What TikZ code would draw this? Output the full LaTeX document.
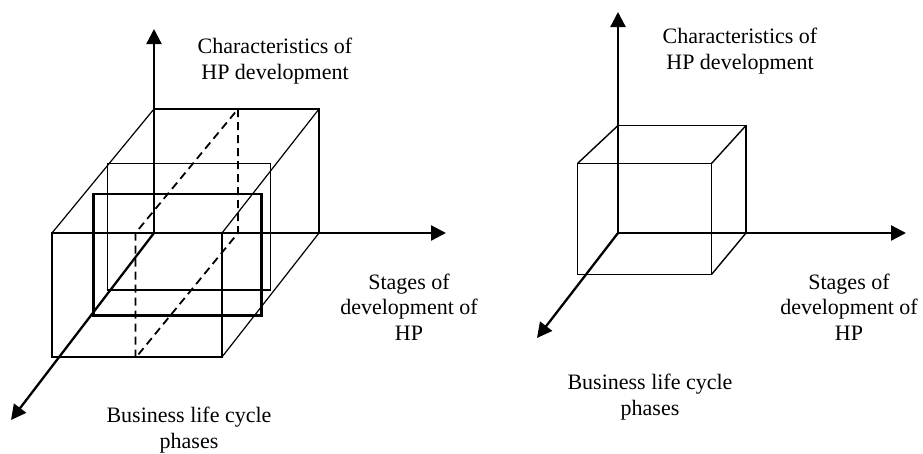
\documentclass[tikz,border=0pt]{standalone}
\usepackage{fontspec}
\setmainfont{Liberation Serif}
\usetikzlibrary{arrows.meta}
\begin{document}
\begin{tikzpicture}[x=1pt,y=-1pt,
  axis/.style={line width=2.3pt,-{Triangle[length=15pt,width=15pt]}},
  thin box/.style={line width=1.2pt},
  cube line/.style={line width=1.4pt},
  thick box/.style={line width=2.8pt},
  dash line/.style={line width=1.8pt,dash pattern=on 8pt off 5pt},
  lbl/.style={align=center,inner sep=0pt,font=\fontsize{22}{25.5}\selectfont}]
\useasboundingbox (0,0) rectangle (923,453);
% ---------- left diagram ----------
\coordinate (O1) at (154,233);
\coordinate (V1) at (154,29);
\coordinate (H1) at (446,233);
\coordinate (D1) at (11,420);
% large box
\coordinate (f1) at (52,233);  \coordinate (f2) at (222,233);
\coordinate (f3) at (222,357); \coordinate (f4) at (52,357);
\coordinate (b1) at (154,109); \coordinate (b2) at (319,109);
\coordinate (b3) at (319,233);
\draw[thin box] (f1) -- (f2) -- (f3) -- (f4) -- cycle;
\draw[thin box] (O1) -- (b1) -- (b2) -- (b3);
\draw[thin box] (f1) -- (b1) (f2) -- (b2) (f3) -- (b3);
% middle thin rectangle
\draw[thin box] (107.5,163.5) rectangle (270.5,290);
% thick rectangle
\draw[thick box] (93.5,194) rectangle (261.5,315.5);
% dashed slice
\coordinate (s1) at (238,109); \coordinate (s2) at (238,233);
\coordinate (s3) at (135.5,358); \coordinate (s4) at (135.5,233);
\draw[dash line] (s1) -- (s2) -- (s3) -- (s4) -- cycle;
% axes
\draw[axis] (O1) -- (V1);
\draw[axis] (O1) -- (H1);
\draw[axis] (O1) -- (D1);
\node[lbl] (c1) at (275,61) {Characteristics of\\HP development};
\node[lbl] (st1) at (409,307) {Stages of\\development of\\HP};
\node[lbl] (bl1) at (189,430) {Business life cycle\\phases};
% ---------- right diagram ----------
\coordinate (O2) at (618,233);
\coordinate (V2) at (618,12);
\coordinate (H2) at (906,233);
\coordinate (D2) at (537,338);
\coordinate (g1) at (577.5,163.5); \coordinate (g2) at (711.5,163.5);
\coordinate (g3) at (711.5,274.5);  \coordinate (g4) at (577.5,274.5);
\coordinate (k1) at (618,125.5); \coordinate (k2) at (746,125.5);
\coordinate (k3) at (746,233);
\draw[cube line] (g1) -- (g2) -- (g3) -- (g4) -- cycle;
\draw[cube line] (k1) -- (k2) -- (k3);
\draw[cube line] (g1) -- (k1) (g2) -- (k2) (g3) -- (k3);
\draw[axis] (O2) -- (V2);
\draw[axis] (O2) -- (H2);
\draw[axis] (O2) -- (D2);
\node[lbl] (c2) at (740,51) {Characteristics of\\HP development};
\node[lbl] (st2) at (849,307) {Stages of\\development of\\HP};
\node[lbl] (bl2) at (650,397) {Business life cycle\\phases};
\end{tikzpicture}
\end{document}
